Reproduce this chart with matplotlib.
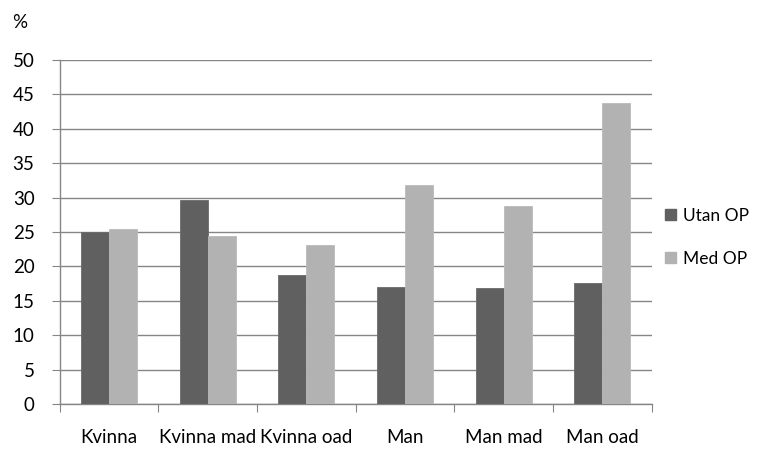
import numpy as np
import matplotlib.pyplot as plt
from matplotlib.patches import Patch

plt.rcParams['font.family'] = ['Lato', 'DejaVu Sans']

categories = ['Kvinna', 'Kvinna mad', 'Kvinna oad', 'Man', 'Man mad', 'Man oad']
utan_op = [25.0, 29.7, 18.8, 17.0, 16.8, 17.6]
med_op = [25.5, 24.4, 23.1, 31.8, 28.8, 43.7]

dark = '#606060'
light = '#b2b2b2'
grid = '#868686'
fs = 13.5

fig = plt.figure(figsize=(7.57, 4.5), dpi=100)
ax = fig.add_axes([0.0786, 0.102, 0.7824, 0.765])

x = np.arange(len(categories))
w = 0.283
ax.bar(x - w / 2, utan_op, w, color=dark, edgecolor='#6a6a6a', linewidth=0.6, zorder=3)
ax.bar(x + w / 2, med_op, w, color=light, edgecolor='#bababa', linewidth=0.6, zorder=3)

ax.set_xlim(-0.5, len(categories) - 0.5)
ax.set_ylim(0, 50)
ax.set_yticks(np.arange(0, 51, 5))
ax.yaxis.grid(True, color=grid, linewidth=1.0, zorder=0)
ax.set_axisbelow(True)

# category ticks sit on the boundaries, labels at centers
ax.set_xticks(np.arange(-0.5, len(categories)), minor=False)
ax.set_xticklabels([])
ax.set_xticks(x, minor=True)
ax.set_xticklabels(categories, minor=True, fontsize=fs)
ax.tick_params(axis='x', which='minor', length=0, pad=18)
ax.tick_params(axis='x', which='major', length=6, color=grid, direction='out')
ax.tick_params(axis='y', length=6, color=grid, labelsize=fs, pad=12)

for side in ['top', 'right']:
    ax.spines[side].set_visible(False)
for side in ['left', 'bottom']:
    ax.spines[side].set_color(grid)
    ax.spines[side].set_linewidth(1.0)

fig.text(0.016, 0.951, '%', fontsize=fs, ha='left', va='center')

handles = [Patch(color=dark), Patch(color=light)]
fig.legend(handles, ['Utan OP', 'Med OP'], loc='center left',
           bbox_to_anchor=(0.86, 0.473), frameon=False, fontsize=12.5,
           handlelength=0.65, handleheight=0.65, handletextpad=0.4,
           labelspacing=1.55, borderpad=0.3)

fig.savefig('out.png', dpi=100)
